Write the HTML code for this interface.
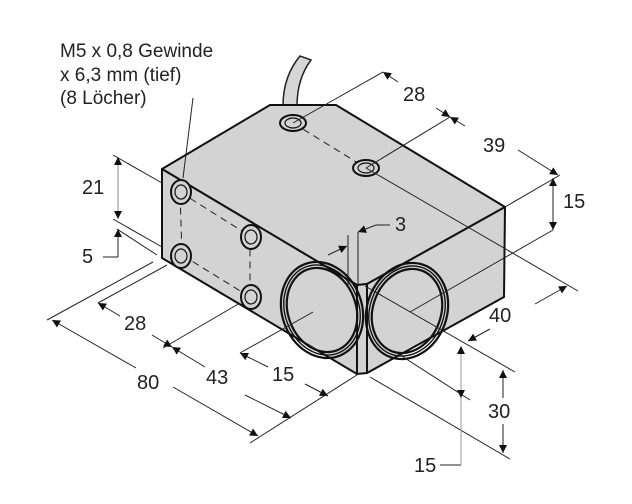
<!DOCTYPE html>
<html><head><meta charset="utf-8"><style>html,body{margin:0;padding:0;background:#fff}svg{display:block}text{font-family:"Liberation Sans",sans-serif;fill:#222}</style></head>
<body>
<svg width="632" height="504" viewBox="0 0 632 504" xmlns="http://www.w3.org/2000/svg">
<defs>
<marker id="a" viewBox="0 0 10 10" refX="10" refY="5" markerWidth="13" markerHeight="8" orient="auto-start-reverse" markerUnits="userSpaceOnUse"><path d="M0,0L10,5L0,10z" fill="#111"/></marker>
</defs>
<g font-size="19">
<text x="60" y="57">M5 x 0,8 Gewinde</text>
<text x="60" y="81">x 6,3 mm (tief)</text>
<text x="60" y="104">(8 Löcher)</text>
</g>
<!-- cable -->
<path d="M283,106 C283,85 290,68 300,56 L311,60 C302,72 297,88 297,106 Z" fill="#d6d6d6" stroke="#222" stroke-width="1.5"/>
<!-- box -->
<g stroke="#111" stroke-width="2" stroke-linejoin="round" fill="#d3d3d3">
<path d="M162,169 L270,105 L336,105 L505,207 L367,284 L357,285 Z"/>
<path d="M162,169 L357,285 L357,374 L162,258 Z"/>
<path d="M357,285 L367,284 L367,373 L357,374 Z"/>
<path d="M367,284 L505,207 L504,297 L367,373 Z"/>
</g>
<!-- dashed -->
<g stroke="#222" stroke-width="1" stroke-dasharray="7,5" fill="none">
<path d="M293,123 L366,168"/>
<path d="M180,192 L250,236 L250,297 L182,255 Z"/>
</g>
<!-- screws -->
<g stroke="#111" stroke-width="2" fill="#d3d3d3">
<ellipse cx="293" cy="123" rx="13" ry="8"/><ellipse cx="293" cy="123" rx="8" ry="5" stroke-width="1.2"/>
<ellipse cx="366" cy="168" rx="13" ry="8"/><ellipse cx="366" cy="168" rx="8" ry="5" stroke-width="1.2"/>
<ellipse cx="181" cy="192" rx="10" ry="12"/><ellipse cx="181" cy="192" rx="6" ry="7" stroke-width="1.2"/>
<ellipse cx="181" cy="256" rx="10" ry="12"/><ellipse cx="181" cy="256" rx="6" ry="7" stroke-width="1.2"/>
<ellipse cx="251" cy="237" rx="10" ry="12"/><ellipse cx="251" cy="237" rx="6" ry="7" stroke-width="1.2"/>
<ellipse cx="251" cy="297" rx="10" ry="12"/><ellipse cx="251" cy="297" rx="6" ry="7" stroke-width="1.2"/>
</g>
<!-- lenses -->
<g fill="none" stroke="#111">
<g transform="translate(322,310) rotate(-20)">
<ellipse rx="40" ry="49" stroke-width="2.2"/><ellipse rx="37" ry="46" stroke-width="1.4"/><ellipse rx="34" ry="43" stroke-width="2.2"/>
</g>
<g transform="translate(407,311) rotate(20)">
<ellipse rx="40" ry="49" stroke-width="2.2"/><ellipse rx="37" ry="46" stroke-width="1.4"/><ellipse rx="34" ry="43" stroke-width="2.2"/>
</g>
</g>
<!-- thin lines -->
<g stroke="#222" stroke-width="1" fill="none">
<path d="M193,98 L183,178"/>
<path d="M293,123 L383,72"/><path d="M366,168 L450,117"/><path d="M505,207 L560,175"/>
<path d="M366,168 L578,291"/>
<path d="M410,312 L553,230"/>
<path d="M365,286 L515,372"/>
<path d="M370,377 L510,459"/>
<path d="M397,353 L470,400"/>
<path d="M113,155 L162,183"/><path d="M113,219 L162,247"/>
<path d="M117,229 L157,255"/>
<path d="M153,262 L47,320"/><path d="M167,265 L98,303"/>
<path d="M240,303 L163,348"/>
<path d="M313,312 L240,353"/>
<path d="M250,443 L360,373"/>
<path d="M348,235 L348,285"/><path d="M358,232 L358,285"/>
<path d="M103,257 L118,257"/><path d="M440,465 L461,465"/>
<path d="M376,225 L390,225"/>
</g>
<!-- dimension lines -->
<g stroke="#222" stroke-width="1" fill="none">
<path d="M398,82 L383,72" marker-end="url(#a)"/>
<path d="M436,108 L450,117" marker-end="url(#a)"/>
<path d="M465,126 L450,117" marker-end="url(#a)"/>
<path d="M518,150 L558,175" marker-end="url(#a)"/>
<path d="M553,178 L553,230" marker-start="url(#a)" marker-end="url(#a)"/>
<path d="M468,341 L490,329" marker-start="url(#a)"/>
<path d="M535,304 L567,286" marker-end="url(#a)"/>
<path d="M503,370 L503,398" marker-start="url(#a)"/>
<path d="M503,424 L503,453" marker-end="url(#a)"/>
<path d="M461,346 L461,398" stroke="#999" marker-start="url(#a)" marker-end="url(#a)"/>
<path d="M461,398 L461,465" stroke="#999"/>
<path d="M118,157 L118,219" stroke="#888" marker-start="url(#a)" marker-end="url(#a)"/>
<path d="M118,257 L118,229" marker-end="url(#a)"/>
<path d="M98,303 L120,316" marker-start="url(#a)"/>
<path d="M152,335 L172,347" marker-end="url(#a)"/>
<path d="M172,347 L205,367" marker-start="url(#a)"/>
<path d="M245,395 L291,418" marker-end="url(#a)"/>
<path d="M52,320 L136,368" marker-start="url(#a)"/>
<path d="M173,387 L258,436" marker-end="url(#a)"/>
<path d="M240,353 L268,367" marker-start="url(#a)"/>
<path d="M305,384 L328,396" marker-end="url(#a)"/>
<path d="M376,225 L358,232" marker-end="url(#a)"/>
<path d="M328,255 L347,246" marker-end="url(#a)"/>
</g>
<g font-size="20">
<text x="403" y="101">28</text>
<text x="483" y="152">39</text>
<text x="563" y="208">15</text>
<text x="395" y="231">3</text>
<text x="489" y="322">40</text>
<text x="488" y="418">30</text>
<text x="414" y="472">15</text>
<text x="82" y="194">21</text>
<text x="82" y="263">5</text>
<text x="124" y="330">28</text>
<text x="137" y="389">80</text>
<text x="206" y="384">43</text>
<text x="272" y="381">15</text>
</g>
</svg>
</body></html>
